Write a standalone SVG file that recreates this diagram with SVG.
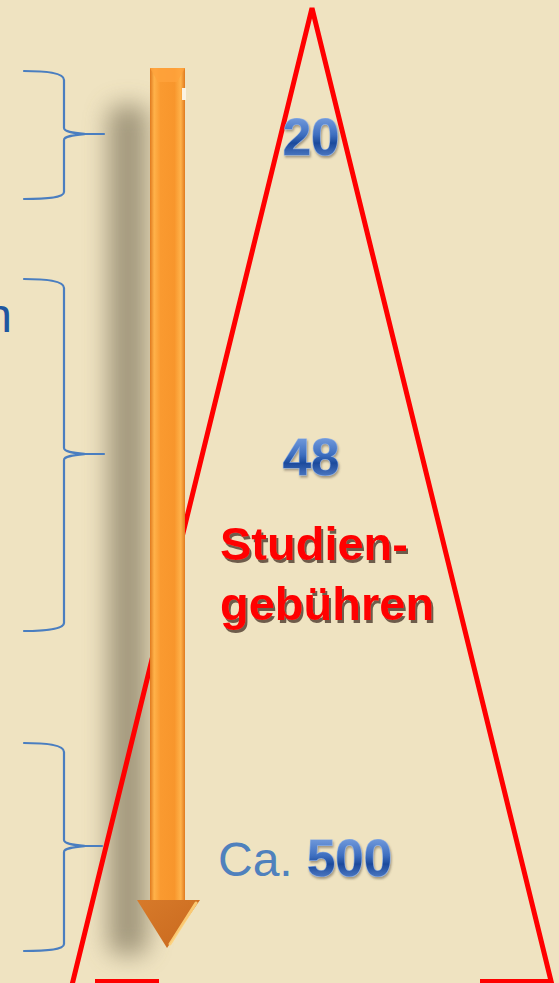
<svg xmlns="http://www.w3.org/2000/svg" width="559" height="983" viewBox="0 0 559 983">
<defs>
<style>
.brace{fill:none;stroke:#4A7EC0;stroke-width:2.2;stroke-linecap:round}
.tri{fill:none;stroke:#FF0000;stroke-width:5;stroke-linejoin:miter}
.num{font-family:"Liberation Sans",Arial,sans-serif;font-weight:bold;font-size:51px;fill:url(#blueGrad);stroke:#8FB0E2;stroke-width:1.2;paint-order:stroke}
.red{font-family:"Liberation Sans",Arial,sans-serif;font-weight:bold;font-size:47px;fill:#FF0000}
.ca{font-family:"Liberation Sans",Arial,sans-serif;font-size:48px;fill:#4F81BD}
</style>
<linearGradient id="blueGrad" x1="0" y1="0" x2="0" y2="1">
<stop offset="0" stop-color="#8CB0EA"/>
<stop offset="0.45" stop-color="#3E6FC0"/>
<stop offset="0.6" stop-color="#1C4A9C"/>
<stop offset="1" stop-color="#6F98DC"/>
</linearGradient>
<linearGradient id="shaftGrad" x1="0" y1="0" x2="1" y2="0">
<stop offset="0" stop-color="#E07A1E"/>
<stop offset="0.12" stop-color="#FFB24A"/>
<stop offset="0.3" stop-color="#FA9A30"/>
<stop offset="0.7" stop-color="#F8962C"/>
<stop offset="0.88" stop-color="#FFB24A"/>
<stop offset="1" stop-color="#E07A1E"/>
</linearGradient>
<linearGradient id="headGrad" x1="0" y1="0" x2="1" y2="1">
<stop offset="0" stop-color="#D77A2A"/>
<stop offset="1" stop-color="#C9691E"/>
</linearGradient>
<filter id="blur" x="-1" y="-0.2" width="3" height="1.4">
<feGaussianBlur stdDeviation="12"/>
</filter>
<filter id="numsh" x="-0.2" y="-0.2" width="1.4" height="1.4">
<feDropShadow dx="1" dy="2" stdDeviation="1" flood-color="#5A5040" flood-opacity="0.5"/>
</filter>
<filter id="redsh" x="-0.1" y="-0.2" width="1.2" height="1.5">
<feDropShadow dx="2" dy="3" stdDeviation="0.6" flood-color="#5E4E3E" flood-opacity="0.9"/>
</filter>
</defs>
<rect width="559" height="983" fill="#EFE3C1"/>

<g id="arrow-shadow">
<rect x="108" y="105" width="40" height="850" rx="12" fill="#6F6650" opacity="0.6" filter="url(#blur)"/>
</g>

<g id="triangle">
<polyline class="tri" points="72,985 312,8 552,985"/>
<line x1="95" y1="981" x2="159" y2="981" stroke="#FF0000" stroke-width="4"/>
<line x1="480" y1="981" x2="553" y2="981" stroke="#FF0000" stroke-width="4"/>
</g>

<g id="connectors">
<path class="brace" d="M24,71 C45,71 64,73 64,80 L64,128 C64,132 75,133 85,134 C75,135 64,136 64,140 L64,192 C64,198 45,199 24,199 M85,134 L104,134"/>
<path class="brace" d="M24,279 C45,279 64,281 64,288 L64,448 C64,452 75,453 85,454 C75,455 64,456 64,460 L64,623 C64,629 45,631 24,631 M85,454 L104,454"/>
<path class="brace" d="M24,743 C45,743 64,745 64,752 L64,840 C64,844 75,845 85,846 C75,847 64,848 64,852 L64,944 C64,950 45,951 24,951 M85,846 L102,846"/>
</g>

<g id="arrow">
<rect x="150" y="68" width="35" height="836" fill="url(#shaftGrad)"/>
<path d="M150,68 L185,68 L177,82 L158,82 Z" fill="#FFA33C" opacity="0.8"/>
<rect x="182" y="88" width="4" height="12" fill="#FBF3E2"/>
<polygon points="137,900 200,900 167,948" fill="url(#headGrad)"/>
<path d="M196,903 L170,944" stroke="#FFD27A" stroke-width="3" stroke-linecap="round" opacity="0.9"/>
</g>

<g id="label-left">
<text x="12" y="332" font-family="Liberation Sans, Arial, sans-serif" font-size="48" fill="#1F57A0" text-anchor="end">n</text>
</g>

<g id="level-20">
<text class="num" x="311" y="155" text-anchor="middle" filter="url(#numsh)">20</text>
</g>

<g id="level-48">
<text class="num" x="311" y="475" text-anchor="middle" filter="url(#numsh)">48</text>
<text class="red" x="220" y="560" filter="url(#redsh)">Studien-</text>
<text class="red" x="220" y="620" filter="url(#redsh)">gebühren</text>
</g>

<g id="level-500">
<text class="ca" x="218" y="876">Ca.</text>
<text class="num" x="307" y="876" filter="url(#numsh)">500</text>
</g>
</svg>
